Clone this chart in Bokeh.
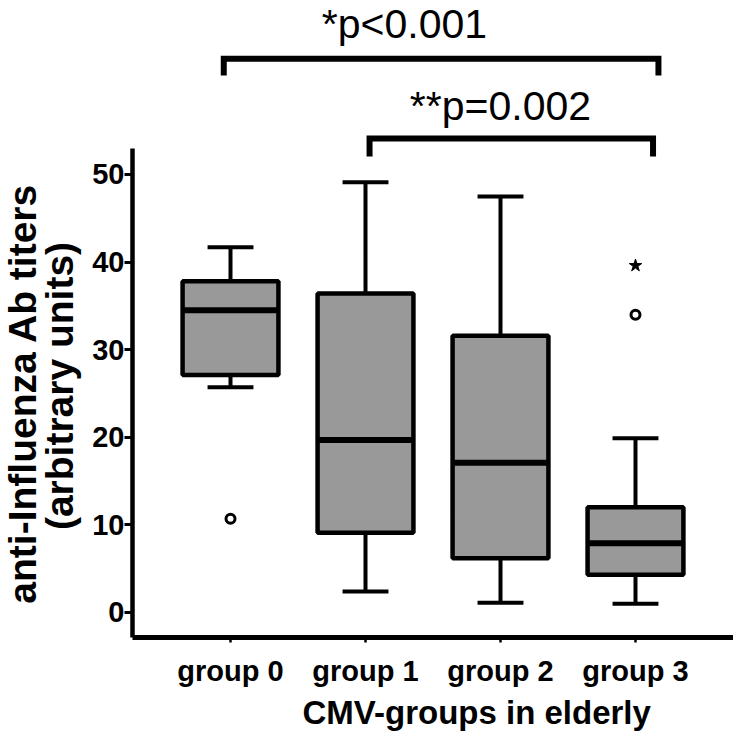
import numpy as np
from bokeh.plotting import figure
from bokeh.models import Range1d, FixedTicker, Title, ColumnDataSource
from bokeh.layouts import row
from bokeh.core.properties import value
from bokeh.embed import file_html
from bokeh.resources import INLINE

# ---- data ----
groups = ["group 0", "group 1", "group 2", "group 3"]
upper_whisker = [41.7, 49.1, 47.5, 19.9]
q3 = [37.8, 36.4, 31.6, 12.0]
median = [34.5, 19.7, 17.1, 7.9]
q1 = [27.1, 9.1, 6.2, 4.3]
lower_whisker = [25.7, 2.4, 1.1, 1.0]
outlier_group = [0, 3]
outlier_value = [10.7, 34.0]
extreme_group = [3]
extreme_value = [39.6]
comparisons_from = [0, 1]
comparisons_to = [3, 3]
comparison_text = ["*p<0.001", "**p=0.002"]
y_ticks = [0, 10, 20, 30, 40, 50]
y_title_lines = ["anti-Influenza Ab titers", "(arbitrary units)"]
x_title = "CMV-groups in elderly"

FONT = "Liberation Sans"
H = 744
LABEL_W = 88
FRAME_H = 637   # plot frame height (frames in a row are aligned)

x = np.arange(len(groups))
box_w = 0.71
cap_w = 0.34

# ---- narrow panel holding the two-line y-axis title (pixel coordinates) ----
lab = figure(width=LABEL_W, height=H, output_backend="svg", toolbar_location=None,
             x_range=Range1d(0, LABEL_W), y_range=Range1d(FRAME_H, 0),
             x_axis_type=None, y_axis_type=None,
             min_border_left=0, min_border_right=0, min_border_top=0,
             min_border_bottom=H - FRAME_H)
lab.outline_line_color = None
lab.grid.visible = False
lab.text(x=[0.5, 37.5], y=[393, 385.5], text=y_title_lines, angle=np.pi / 2,
         text_font=value(FONT), text_font_style="bold", text_font_size="39px",
         text_align="center", text_baseline="top", text_color="black")

# ---- main plot ----
p = figure(width=733 - LABEL_W, height=H, output_backend="svg", toolbar_location=None,
           x_range=Range1d(-0.726, 3.726), y_range=Range1d(-2.854, 69.86),
           min_border_left=132 - LABEL_W, min_border_right=0, min_border_top=0,
           min_border_bottom=H - FRAME_H)
p.outline_line_color = None
p.grid.visible = False
p.background_fill_color = "white"

src = ColumnDataSource(dict(x=x, up=upper_whisker, q3=q3, med=median, q1=q1,
                            lo=lower_whisker))

# whiskers
p.segment(x0="x", y0="q3", x1="x", y1="up", source=src, line_color="black", line_width=4)
p.segment(x0="x", y0="q1", x1="x", y1="lo", source=src, line_color="black", line_width=4)
# caps
src_caps = ColumnDataSource(dict(x0=x - cap_w / 2, x1=x + cap_w / 2, up=upper_whisker, lo=lower_whisker))
p.segment(x0="x0", y0="up", x1="x1", y1="up", source=src_caps, line_color="black", line_width=4)
p.segment(x0="x0", y0="lo", x1="x1", y1="lo", source=src_caps, line_color="black", line_width=4)
# boxes
p.vbar(x="x", width=box_w, bottom="q1", top="q3", source=src, fill_color="#999999",
       line_color="black", line_width=4.5)
# medians
src_med = ColumnDataSource(dict(x0=x - box_w / 2, x1=x + box_w / 2, med=median))
p.segment(x0="x0", y0="med", x1="x1", y1="med", source=src_med, line_color="black", line_width=6)

# outliers
p.scatter(outlier_group, outlier_value, marker="circle", size=9, fill_color="white",
          line_color="black", line_width=3)
p.scatter(extreme_group, extreme_value, marker="star", size=13, fill_color="black",
          line_color="black", line_width=1)

# significance brackets
bracket_y = [63.2, 54.1]
drop = [1.9, 2.05]
left_off = [-0.05, 0.03]
right_off = [0.17, 0.13]
xs, ys = [], []
for a, b, yy, d, lo_, ro_ in zip(comparisons_from, comparisons_to, bracket_y, drop, left_off, right_off):
    xa_, xb_ = a + lo_, b + ro_
    xs.append([xa_, xa_, xb_, xb_])
    ys.append([yy - d, yy, yy, yy - d])
p.multi_line(xs, ys, line_color="black", line_width=6, line_join="miter")

text_x = [(404 - 230) / 135, (500 - 230) / 135]
text_y = [69.8, 60.47]
p.text(text_x, text_y, text=comparison_text, text_font=value(FONT), text_font_size="41px",
       text_align="center", text_baseline="top", text_color="black")

# axes
xa = p.xaxis[0]
xa.ticker = FixedTicker(ticks=list(x))
xa.major_label_overrides = {int(i): g for i, g in zip(x, groups)}
xa.axis_line_width = 5
xa.major_tick_line_width = 2.5
xa.major_tick_out = 5
xa.major_tick_in = 0
xa.minor_tick_line_color = None
xa.major_label_text_font = FONT
xa.major_label_text_font_style = "bold"
xa.major_label_text_font_size = "29px"
xa.major_label_text_color = "black"
xa.major_label_standoff = 12

ya = p.yaxis[0]
ya.ticker = FixedTicker(ticks=y_ticks)
ya.bounds = (-2.854, 53)
ya.axis_line_width = 4.5
ya.major_tick_line_width = 3
ya.major_tick_out = 8
ya.major_tick_in = 0
ya.minor_tick_line_color = None
ya.major_label_text_font = FONT
ya.major_label_text_font_style = "bold"
ya.major_label_text_font_size = "29px"
ya.major_label_text_color = "black"
ya.major_label_standoff = 0

p.add_layout(Title(text=x_title, align="left", offset=170,
                   vertical_align="top", standoff=8,
                   text_font=FONT, text_font_style="bold", text_font_size="33px",
                   text_color="black"), "below")

open("out.html", "w").write(file_html(row(lab, p), INLINE))
